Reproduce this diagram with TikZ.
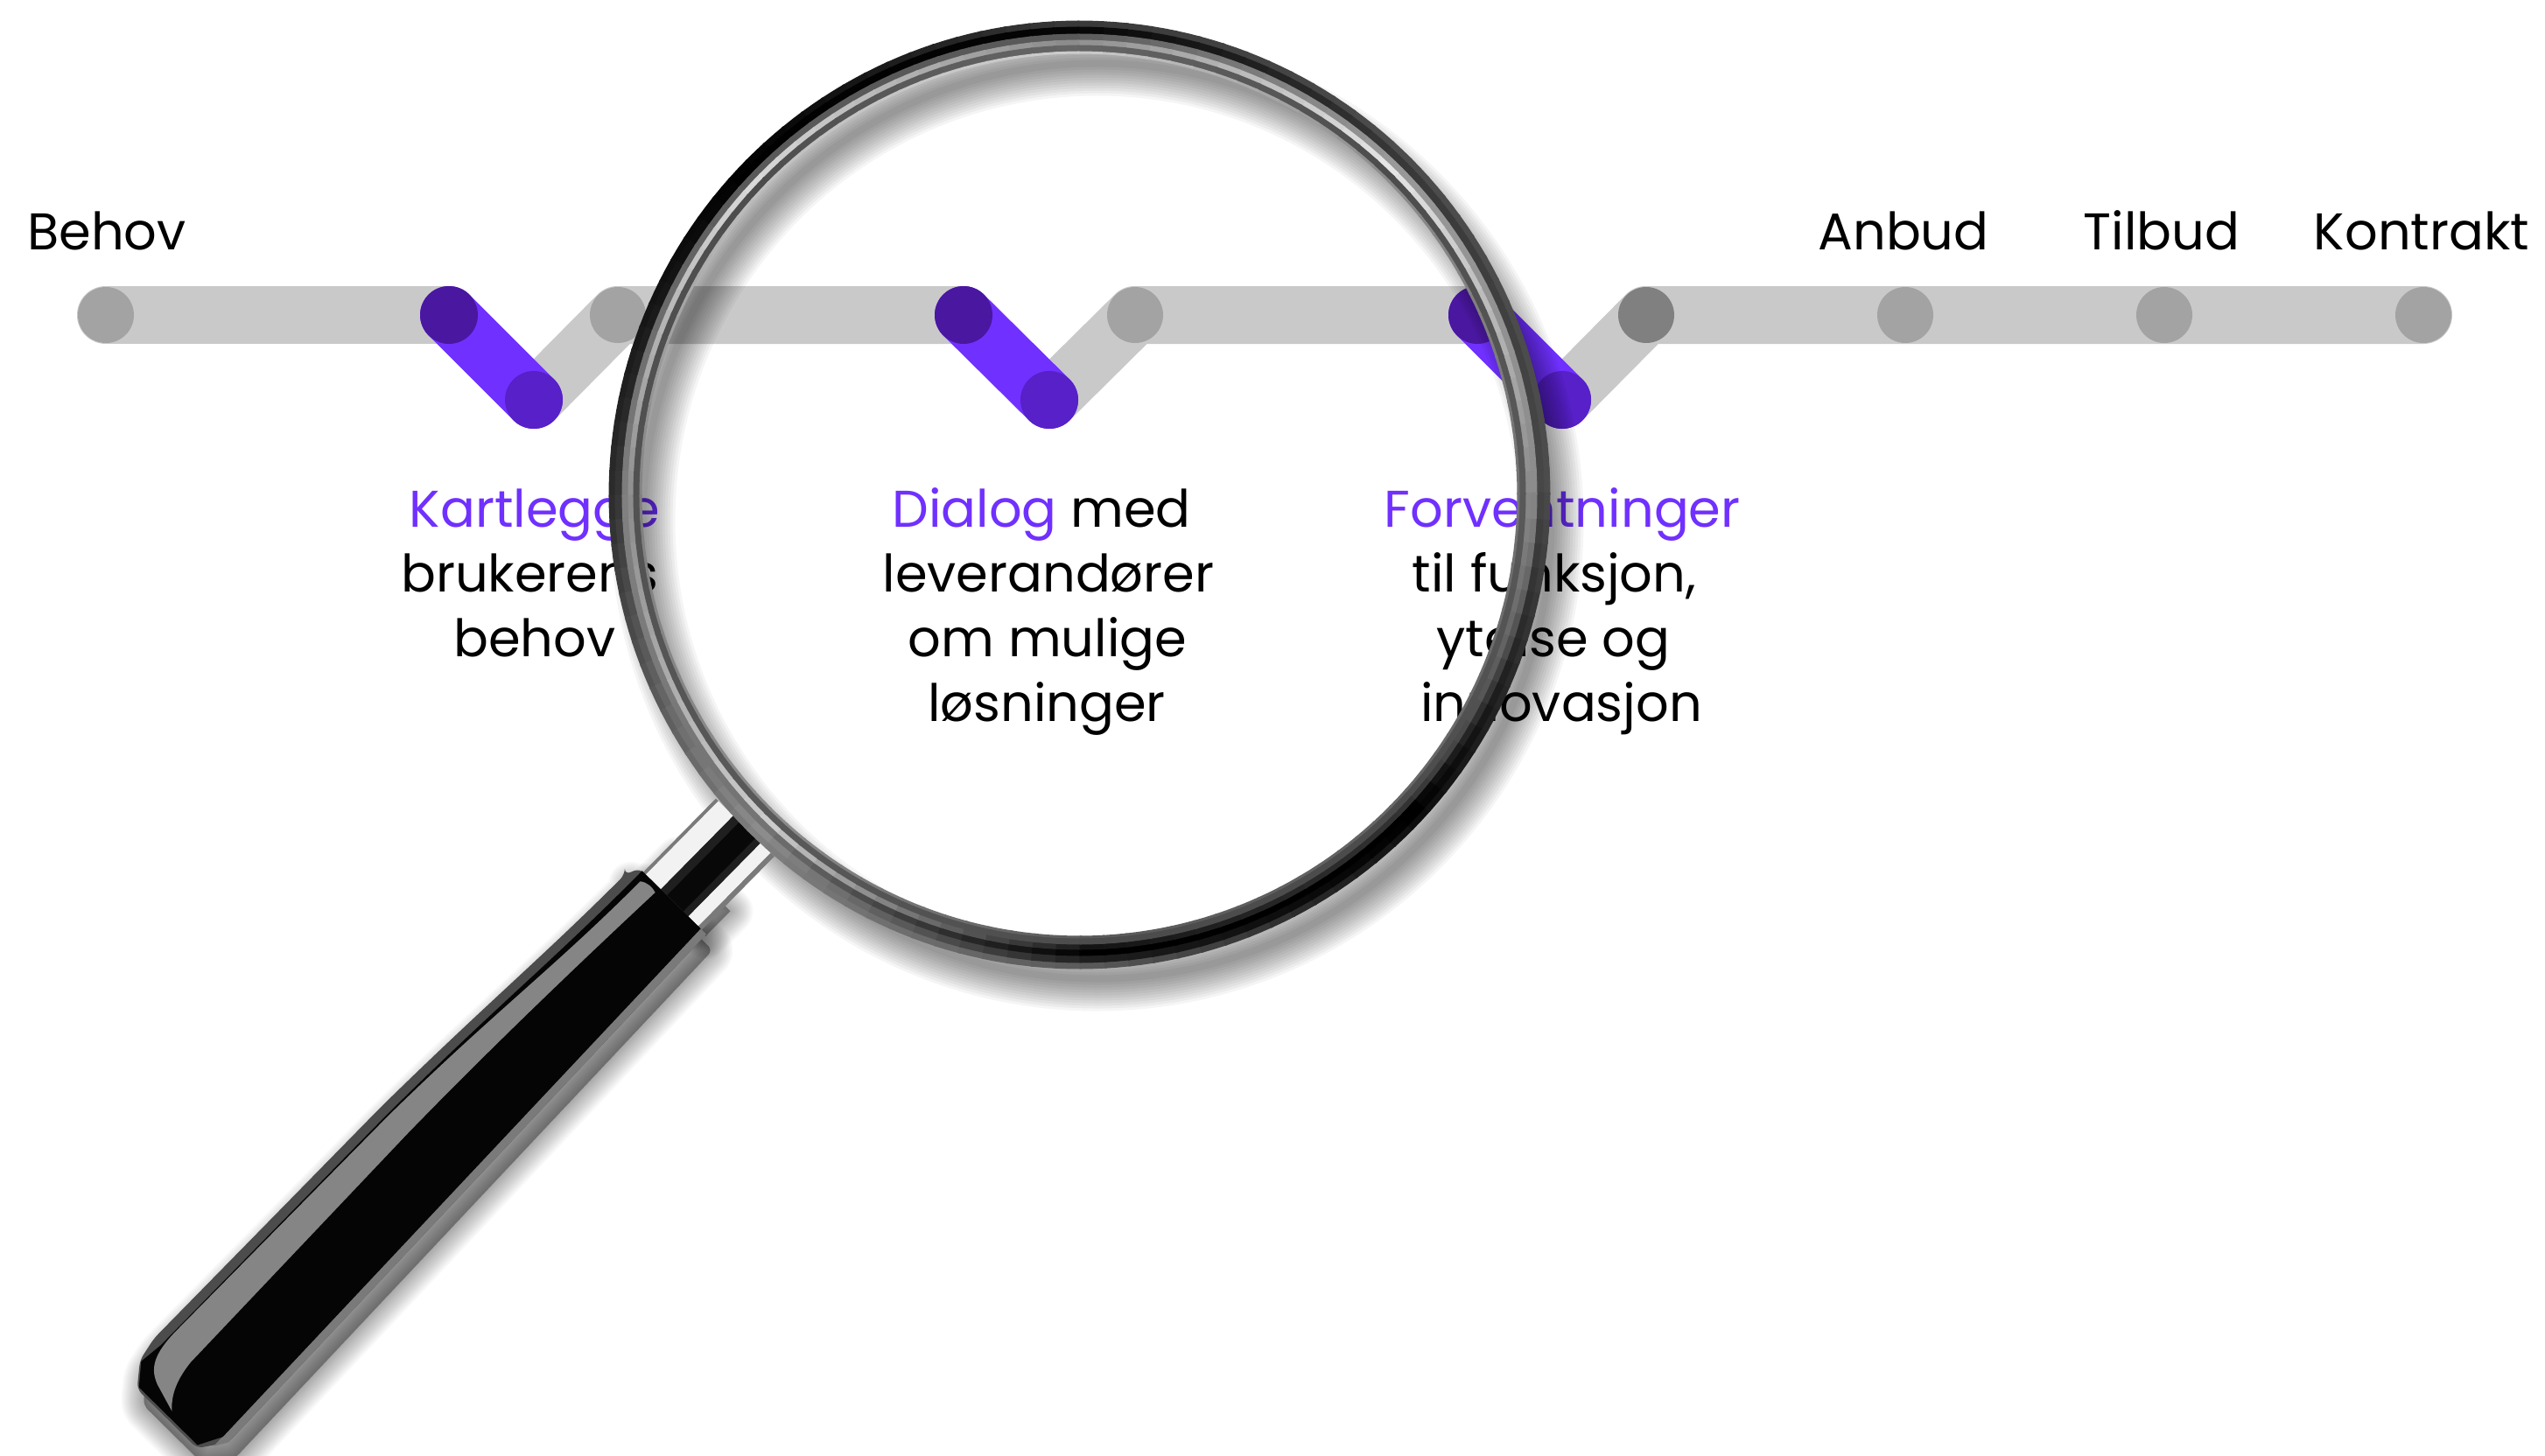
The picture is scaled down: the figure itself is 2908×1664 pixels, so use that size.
\documentclass[tikz,border=0pt]{standalone}
\usepackage{fontspec}
\setmainfont{Poppins}
\definecolor{trackgray}{HTML}{C9C9C9}
\definecolor{dotgray}{HTML}{A3A3A3}
\definecolor{dotdark}{HTML}{808080}
\definecolor{vio}{HTML}{7030FF}
\definecolor{viodarkA}{HTML}{4A17A0}
\definecolor{viodarkB}{HTML}{5720C8}
\newcommand{\ringband}[3]{%
  \foreach \k in {0,...,7}{%
    \foreach \j in {0,...,14}{%
      \pgfmathsetmacro\aa{\k*45+\j*3}%
      \pgfmathsetmacro\ab{\aa+1.6}%
      \pgfmathsetmacro\ac{\aa+3.3}%
      \pgfmathsetmacro\va{{#3}[\k]}%
      \pgfmathsetmacro\vb{{#3}[int(\k+1)]}%
      \pgfmathsetmacro\pp{100-(\va+(\vb-\va)*\j/15)}%
      \pgfmathsetmacro\rx{538-#1-#2/2}%
      \pgfmathsetmacro\ry{542-#1-#2/2}%
      \draw[line width=#2pt,draw=black!\pp!white]
        ({1233.5+\rx*cos(\aa)},{565.5-\ry*sin(\aa)}) --
        ({1233.5+\rx*cos(\ab)},{565.5-\ry*sin(\ab)}) --
        ({1233.5+\rx*cos(\ac)},{565.5-\ry*sin(\ac)});
    }%
  }%
}
\newcommand{\bodypath}{[rounded corners=7pt] (-15,-57) .. controls (-150,-58) and (-230,-66) .. (-400,-69) -- (-770,-68) -- (-799,-62) -- (-825,-41) -- (-825,55) -- (-795,76) -- (2,57) -- (2,-50) -- (-15,-57) -- cycle}
\newcommand{\stripe}[4]{(#1,#2) -- (#3,#2) -- (#3,#4) -- (#1,#4) -- cycle}
\tikzset{
  tracklabel/.style={anchor=base,inner sep=0pt,text=black,font=\fontsize{59}{74}\selectfont},
  leadword/.style={tracklabel,text=vio},
  trackline/.style={line width=66pt,line cap=round,draw=trackgray},
  purpleline/.style={line width=66pt,line cap=round,draw=vio},
}
\begin{document}
\begin{tikzpicture}[x=1pt,y=-1pt]
\path[use as bounding box,fill=white] (0,0) rectangle (2908,1664);
% stations
\coordinate (s1) at (121,360);
\coordinate (a1) at (513,360);
\coordinate (b1) at (610,457);
\coordinate (c1) at (706,360);
\coordinate (a2) at (1101,360);
\coordinate (b2) at (1199,457);
\coordinate (c2) at (1297,360);
\coordinate (a3) at (1688,360);
\coordinate (b3) at (1785,457);
\coordinate (c3) at (1881,360);
\coordinate (s2) at (2177,360);
\coordinate (s3) at (2473,360);
\coordinate (s4) at (2769,360);
% gray track
\draw[trackline] (s1) -- (a1);
\draw[trackline,line join=round] (b1) -- (c1) -- (a2);
\draw[trackline,line join=round] (b2) -- (c2) -- (a3);
\draw[trackline,line join=round] (b3) -- (c3) -- (s4);
\foreach \p in {s1,c1,c2,s2,s3,s4} \fill[dotgray] (\p) circle[radius=32];
\fill[dotdark] (c3) circle[radius=32];
% purple arms
\foreach \i in {1,2,3}{
  \draw[purpleline] (a\i) -- (b\i);
  \fill[viodarkA] (a\i) circle[radius=33];
  \fill[viodarkB] (b\i) circle[radius=33];
}
% labels
\node[tracklabel] (behov) at (122,285) {Behov};
\node[tracklabel] (anbud) at (2175,285) {Anbud};
\node[tracklabel] (tilbud) at (2470,285) {Tilbud};
\node[tracklabel] (kontrakt) at (2767,285) {Kontrakt};
\node[leadword] (k1) at (611,602) {Kartlegge};
\node[tracklabel] (k2) at (605,676) {brukerens};
\node[tracklabel] (k3) at (611,750) {behov};
\node[tracklabel] (d1) at (1190,602) {\textcolor{vio}{Dialog} med};
\node[tracklabel] (d2) at (1198,676) {leverandører};
\node[tracklabel] (d3) at (1197,750) {om mulige};
\node[tracklabel] (d4) at (1196,824) {løsninger};
\node[leadword] (f1) at (1785,602) {Forventninger};
\node[tracklabel] (f2) at (1776,676) {til funksjon,};
\node[tracklabel] (f3) at (1775,750) {ytelse og};
\node[tracklabel] (f4) at (1784,824) {innovasjon};
% ring shadow
\foreach \w in {74,68,...,8}
  \draw[black,opacity=.04,line width=\w pt] (1253.5,595.5) ellipse [x radius=519,y radius=523];
% handle
\begin{scope}[shift={(765,1029)},x={(.702pt,.712pt)},y={(.712pt,-.702pt)}]
  \foreach \w in {52,48,...,0}{
    \path[fill=black,draw=black,opacity=.028,line width=\w pt,line join=round,shift={(-8,18)}] \bodypath;
    \path[fill=black,draw=black,opacity=.028,line width=\w pt,line join=round,shift={(0,18)}] \stripe{0}{-44}{40}{40};
  }
  % neck
  \fill[black!52] \stripe{-2}{-44}{120}{50};
  \fill[black!5] \stripe{-2}{-40}{120}{-16};
  \fill[black!5] \stripe{-2}{28}{120}{44};
  \fill[black!88] \stripe{-2}{-16}{120}{28};
  \fill[black!97] \stripe{-2}{-6}{120}{20};
  % body
  \fill[black!70] \bodypath;
  \fill[black!52] (2,48) -- (2,57) -- (-795,76) -- (-810,67) -- cycle;
  \fill[black!98] (2,-46) -- (-15,-46) .. controls (-150,-47) and (-230,-56) .. (-400,-58) -- (-770,-57) -- (-799,-60) -- (-822,-41) -- (-822,53) -- (-795,67) -- (2,48) -- cycle;
  \fill[black!48] (-8,-39) .. controls (-150,-40) and (-230,-53) .. (-400,-56) -- (-745,-56)
     .. controls (-785,-56) and (-798,-46) .. (-805,-28) -- (-815,5) .. controls (-805,-6) and (-790,-16) .. (-760,-19)
     -- (-400,-26) .. controls (-280,-27) and (-150,-24) .. (-5,-18)
     .. controls (-3,-24) and (-3,-33) .. (-8,-39) -- cycle;
\end{scope}
% ring
\ringband{0}{7.5}{30,30,22,0,18,50,35,5,30}
\ringband{7}{8.5}{28,22,2,0,22,55,12,0,28}
\ringband{15}{7.5}{55,60,35,35,50,45,0,0,55}
\ringband{22}{6.5}{55,90,55,85,55,80,8,20,55}
\ringband{28}{7.5}{35,30,40,30,32,35,30,30,35}
\ringband{35}{3}{45,55,80,75,50,55,35,40,45}
\end{tikzpicture}
\end{document}
